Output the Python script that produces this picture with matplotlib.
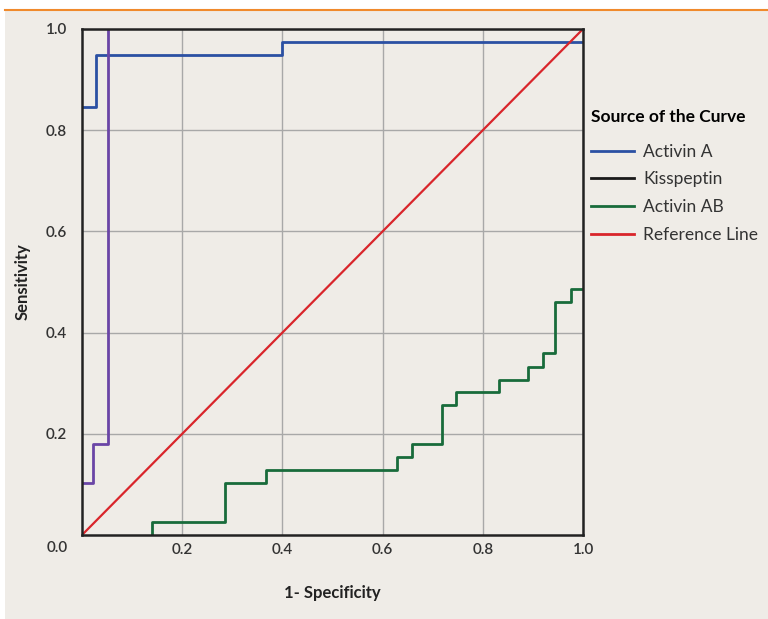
import matplotlib
matplotlib.use("Agg")
import matplotlib.pyplot as plt
from matplotlib.lines import Line2D

plt.rcParams["font.family"] = ["Lato", "DejaVu Sans"]

BG = "#efece7"

# ROC step curves (x = 1 - specificity, y = sensitivity), drawn with where="post"
activin_a_x = [0.0, 0.027, 0.400, 1.000]
activin_a_y = [0.846, 0.949, 0.974, 0.974]

kisspeptin_x = [0.0, 0.022, 0.052]
kisspeptin_y = [0.103, 0.179, 1.000]

activin_ab_x = [0.140, 0.140, 0.285, 0.368, 0.628, 0.659, 0.718, 0.746,
                0.832, 0.891, 0.920, 0.945, 0.977, 1.000]
activin_ab_y = [0.000, 0.026, 0.103, 0.128, 0.154, 0.179, 0.256, 0.282,
                0.306, 0.333, 0.359, 0.460, 0.486, 0.486]

ref_x = [0.0, 1.0]
ref_y = [0.0, 1.0]

legend_labels = ["Activin A", "Kisspeptin", "Activin AB", "Reference Line"]
legend_colors = ["#2b50a3", "#1a1a1a", "#186b3b", "#d9252b"]

ticks = [0.2, 0.4, 0.6, 0.8, 1.0]
tick_labels = ["0.2", "0.4", "0.6", "0.8", "1.0"]

fig = plt.figure(figsize=(7.68, 6.19), dpi=100)
fig.patch.set_facecolor("white")
# beige panel with orange top rule
panel = plt.Rectangle((5 / 768, 0), 1, 1 - 10 / 619, transform=fig.transFigure,
                      facecolor=BG, edgecolor="none", zorder=-10)
fig.add_artist(panel)
fig.add_artist(Line2D([5 / 768, 1], [1 - 10 / 619, 1 - 10 / 619], transform=fig.transFigure,
                      color="#f08a2c", lw=1.5, zorder=-9))

ax = fig.add_axes([82 / 768, 84 / 619, 501 / 768, 506 / 619])
ax.set_facecolor(BG)
ax.set_xlim(0, 1)
ax.set_ylim(0, 1)

ax.step(activin_a_x, activin_a_y, where="post", color="#2b50a3", lw=2.0, zorder=3)
ax.step(kisspeptin_x, kisspeptin_y, where="post", color="#6a45a6", lw=2.0, zorder=3)
ax.step(activin_ab_x, activin_ab_y, where="post", color="#186b3b", lw=2.0, zorder=3)
ax.plot(ref_x, ref_y, color="#d9252b", lw=1.6, zorder=3)

ax.set_xticks(ticks)
ax.set_xticklabels(tick_labels)
ax.set_yticks(ticks)
ax.set_yticklabels(tick_labels)
ax.tick_params(axis="x", length=0, labelsize=11, colors="#333333", pad=6)
ax.tick_params(axis="y", length=0, labelsize=11, colors="#333333", pad=11)
for lab in ax.get_xticklabels() + ax.get_yticklabels():
    lab.set_fontweight("semibold")
ax.grid(True, color="#a8a8a8", lw=1.0, zorder=1)
for s in ax.spines.values():
    s.set_color("#222222")
    s.set_linewidth(1.8)
    s.set_zorder(4)

ax.text(-0.029, -0.012, "0.0", transform=ax.transAxes, ha="right", va="top",
        fontsize=11, fontweight="semibold", color="#333333")

ax.set_xlabel("1- Specificity", fontsize=12, fontweight="bold", color="#222222", labelpad=20)
ax.set_ylabel("Sensitivity", fontsize=12, fontweight="bold", color="#222222", labelpad=11)

handles = [Line2D([], [], color=c, lw=2.0) for c in legend_colors]
leg = fig.legend(handles, legend_labels, title="Source of the Curve",
                 loc="upper left", bbox_to_anchor=(591 / 768, 1 - 109 / 619),
                 frameon=False, fontsize=12.5, handlelength=2.5, handletextpad=0.5,
                 labelspacing=0.67, alignment="left", borderaxespad=0, borderpad=0)
leg.get_title().set_fontweight("bold")
leg.get_title().set_fontsize(12.5)
leg._legend_box.sep = 13.5
for t in leg.get_texts():
    t.set_color("#333333")

fig.savefig("out.png", dpi=100, facecolor=fig.get_facecolor())
